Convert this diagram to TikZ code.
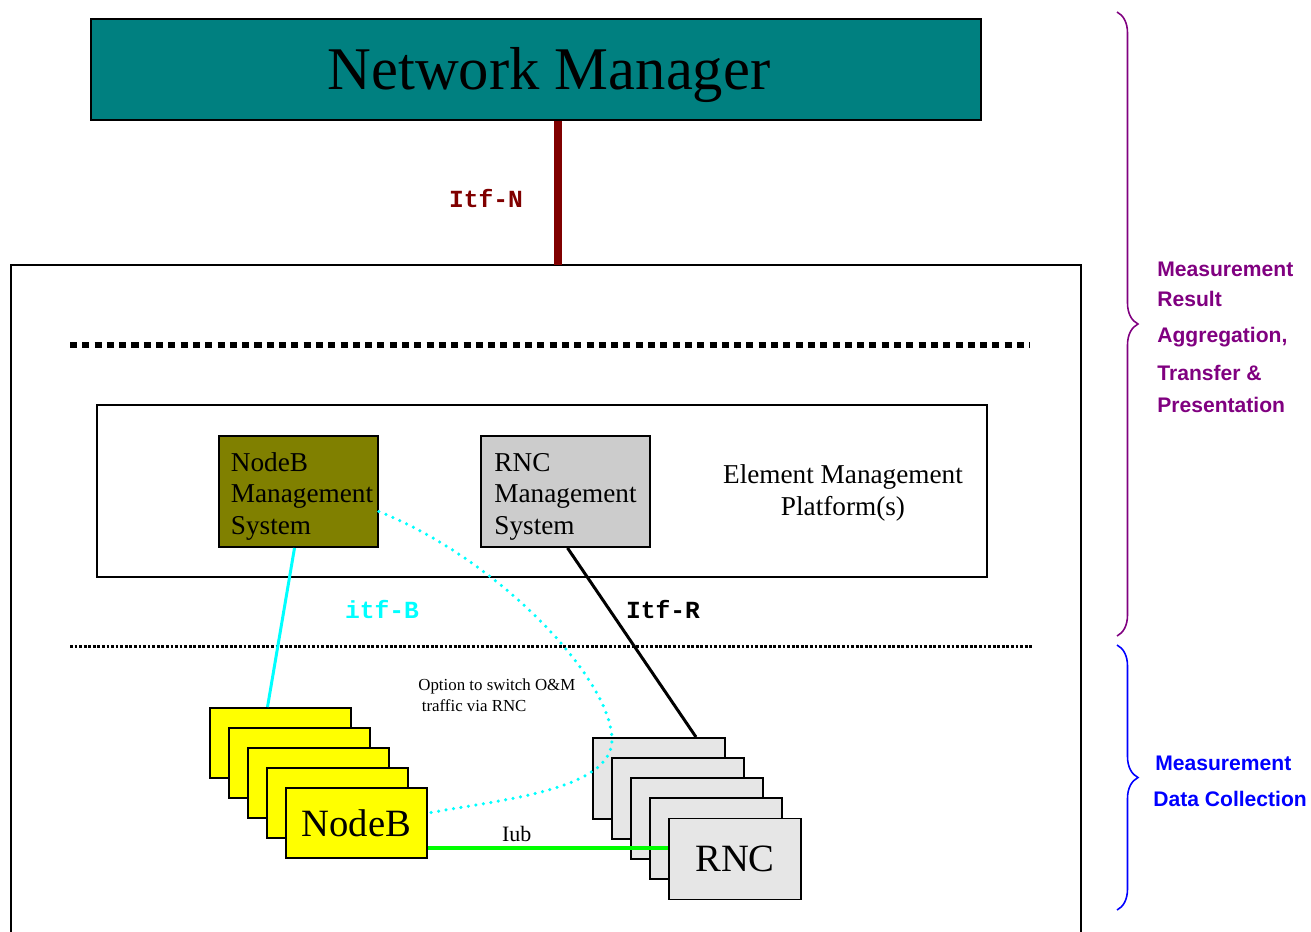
\documentclass[tikz,border=0pt]{standalone}
\usepackage{fontspec}
\setmainfont{Liberation Serif}
\newfontfamily\itffont{Liberation Mono}
\newfontfamily\sidefont{Liberation Sans}
\definecolor{nmTeal}{HTML}{008080}
\definecolor{nmMaroon}{HTML}{800000}
\definecolor{nmOlive}{HTML}{808000}
\definecolor{nmGray}{HTML}{CCCCCC}
\definecolor{nmLight}{HTML}{E6E6E6}
\definecolor{nmYellow}{HTML}{FFFF00}
\definecolor{nmCyan}{HTML}{00FFFF}
\definecolor{nmGreen}{HTML}{00FF00}
\definecolor{nmPurple}{HTML}{800080}
\definecolor{nmBlue}{HTML}{0000FF}
\usetikzlibrary{calc,positioning,decorations.pathreplacing}

\begin{document}
\begin{tikzpicture}[x=0.02cm, y=-0.02cm,
  box/.style={draw=black, line width=1.1pt, inner sep=0pt},
  itf/.style={font=\itffont\bfseries\fontsize{14}{16}\selectfont, anchor=base},
  side/.style={font=\sidefont\bfseries\fontsize{12}{15}\selectfont, anchor=base west, inner sep=0pt}]
  \useasboundingbox (0,0) rectangle (1311,931);

  % Network manager on top
  \node[box, fill=nmTeal, minimum width=17.8cm, minimum height=2.02cm,
        font=\fontsize{34.5}{40}\selectfont] (nm) at (536,69.5)
       {\hspace*{0.52cm}\raisebox{-11.5pt}[0pt][0pt]{Network Manager}};

  % Outer frame (runs off the bottom)
  \draw[line width=1.1pt] (11,940) -- (11,265) -- (1081,265) -- (1081,940);
  \coordinate (itfn) at (558,265);

  % Itf-N
  \draw[nmMaroon, line width=5.1pt] (nm.south -| itfn) -- (itfn);
  \node[itf, text=nmMaroon] at (486,207) {Itf-N};

  % Separators
  \draw[line width=3.6pt, dash pattern=on 4pt off 3pt] (70,345) -- (1030,345);
  \draw[line width=1.7pt, dash pattern=on 1.6pt off 1pt] (70,646) -- (1033,646);

  % Element management platform
  \node[box, line width=0.9pt, minimum width=17.8cm, minimum height=3.44cm] (emp) at (542,491) {};
  \node[font=\fontsize{15.5}{18}\selectfont, align=center] (emptxt) at (843,493)
       {Element Management\\Platform(s)};

  \node[box, fill=nmOlive, minimum width=3.18cm, minimum height=2.22cm,
        font=\fontsize{15.5}{18}\selectfont] (nbms) at (298.5,491.5)
       {\hspace*{4pt}\raisebox{-6.5pt}[0pt][0pt]{\begin{tabular}{@{}l@{}}NodeB\\Management\\System\end{tabular}}};
  \node[box, fill=nmGray, minimum width=3.38cm, minimum height=2.22cm,
        font=\fontsize{15.5}{18}\selectfont] (rncms) at (565.5,491.5)
       {\raisebox{-6.5pt}[0pt][0pt]{\begin{tabular}{@{}l@{}}RNC\\Management\\System\end{tabular}}};

  % NodeB stack
  \foreach \i in {1,...,4}
    \node[box, fill=nmYellow, minimum width=2.82cm, minimum height=1.4cm] (nb\i)
         at (280.5+19*\i-19, 743+20*\i-20) {};
  \node[box, fill=nmYellow, minimum width=2.82cm, minimum height=1.4cm,
        font=\fontsize{22}{26}\selectfont] (nb5) at (356.5,823) {NodeB};

  % RNC stack
  \foreach \i in {1,...,4}
    \node[box, fill=nmLight, minimum width=2.64cm, minimum height=1.62cm] (rnc\i)
         at (659+19*\i-19, 778.5+20*\i-20) {};
  \node[box, fill=nmLight, minimum width=2.64cm, minimum height=1.62cm,
        font=\fontsize{22}{26}\selectfont] (rnc5) at (735,859) {RNC};

  % itf-B and Itf-R
  \draw[nmCyan, line width=1.7pt] ($(nbms.south)+(-4,0)$) -- ($(nb1.north)+(-13,0)$);
  \node[itf, text=nmCyan] at (382,618) {itf-B};
  \draw[line width=1.7pt] ($(rncms.south)+(2,0)$) -- ($(rnc1.north)+(37,0)$);
  \node[itf] at (663,618) {Itf-R};

  % O&M via RNC
  \draw[nmCyan, line width=2pt, line cap=round, dash pattern=on 0pt off 4.3pt]
    ($(nbms.east)+(0,20)$) .. controls (500,560) and (612,680) .. (612,740)
    .. controls (612,790) and (500,800) .. ($(nb5.east)+(0,-10)$);
  \node[font=\fontsize{9.6}{12}\selectfont, align=left, anchor=west, inner sep=0pt]
       (opt) at (418,695.5) {Option to switch O\&M\\\hspace{2pt}traffic via RNC};

  % Iub
  \coordinate (iubL) at ($(nb5.east)+(0,25)$);
  \draw[nmGreen, line width=2.3pt] (iubL) -- (iubL -| rnc5.west)
    node[pos=0.37, above=-1pt, text=black, font=\fontsize{12.5}{15}\selectfont] {Iub};

  % Braces on the right
  \draw[nmPurple, line width=0.9pt, decorate, decoration={brace, amplitude=0.42cm}]
    (1117,12) -- (1117,636);
  \draw[nmBlue, line width=0.9pt, decorate, decoration={brace, amplitude=0.42cm}]
    (1117,645) -- (1117,910);
  \foreach \y/\txt in {276/Measurement, 306/Result, 342/{Aggregation,},
                       380/Transfer \&, 412/Presentation}
    \node[side, text=nmPurple] at (1157,\y) {\txt};
  \node[side, text=nmBlue] at (1155,770) {Measurement};
  \node[side, text=nmBlue] at (1153,806) {Data Collection};

\end{tikzpicture}
\end{document}
